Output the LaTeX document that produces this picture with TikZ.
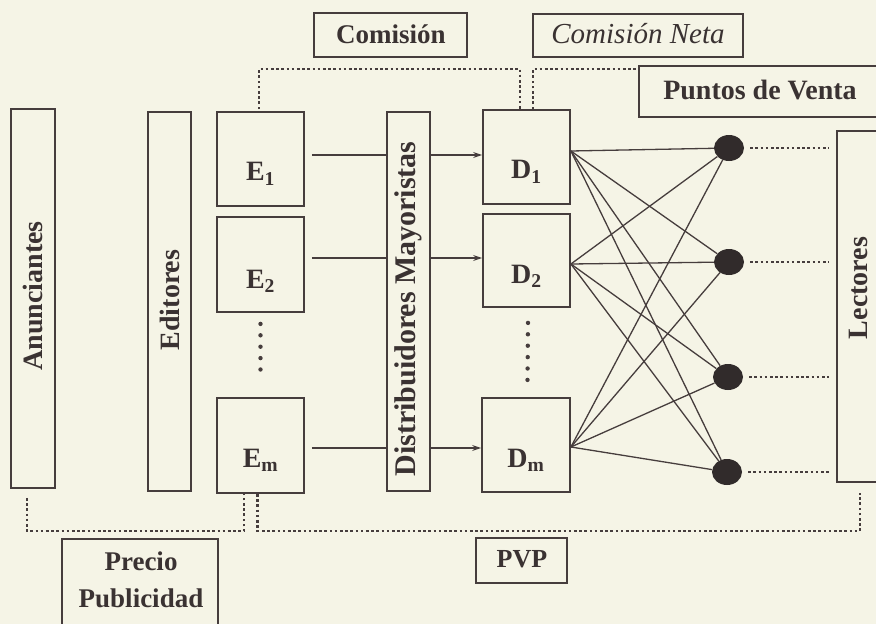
\documentclass[tikz,border=0pt]{standalone}
\usepackage{fontspec}
\setmainfont{Liberation Serif}
\usetikzlibrary{arrows.meta,shapes.geometric}
\definecolor{ink}{HTML}{463D3D}
\definecolor{type}{HTML}{3A3232}
\definecolor{paper}{HTML}{F5F4E6}
\begin{document}
\begin{tikzpicture}[x=1pt,y=-1pt,
  box/.style={draw=ink, line width=1.8pt, inner sep=0pt},
  tag/.style={text=type, inner sep=0pt, font=\bfseries\fontsize{28}{30}\selectfont},
  vtag/.style={tag, rotate=90},
  link/.style={draw=ink, line width=1.6pt},
  flow/.style={link, -{Stealth[length=9pt,width=6pt]}},
  fan/.style={draw=ink, line width=1.3pt},
  dotline/.style={draw=ink, line width=2.9pt, dash pattern=on 2.6pt off 2.6pt},
  ellip/.style={draw=ink, line width=4.4pt, line cap=round, dash pattern=on 0pt off 11.4pt},
  outlet/.style={ellipse, fill=ink!70!black, minimum width=30pt, minimum height=26pt, inner sep=0pt},
]
\fill[paper] (0,0) rectangle (876,624);
\useasboundingbox (0,0) rectangle (876,624);

% tall column boxes
\node[box, minimum width=44pt, minimum height=379pt] (anun) at (33,298.5) {};
\node[vtag] (anunT) at (33,296) {Anunciantes};
\node[box, minimum width=43pt, minimum height=379pt] (edit) at (169.5,301.5) {};
\node[vtag] (editT) at (169.5,300) {Editores};
\node[box, minimum width=43pt, minimum height=379pt] (dist) at (408.5,301.5) {};
\node[vtag, font=\bfseries\fontsize{30}{32}\selectfont] (distT) at (408.5,309) {Distribuidores Mayoristas};
\node[box, minimum width=63pt, minimum height=351pt] (lect) at (868.5,306.5) {};
\node[vtag] (lectT) at (858,288) {Lectores};

% publishers
\node[box, minimum width=87pt, minimum height=94pt] (E1) at (260.5,159) {};
\node[box, minimum width=87pt, minimum height=95pt] (E2) at (260.5,264.5) {};
\node[box, minimum width=87pt, minimum height=95pt] (Em) at (260.5,445.5) {};
\node[tag] (E1t) at ([yshift=-15pt]E1.center) {E\textsubscript{1}};
\node[tag] (E2t) at ([yshift=-17pt]E2.center) {E\textsubscript{2}};
\node[tag] (Emt) at ([yshift=-15pt]Em.center) {E\textsubscript{m}};
\draw[ellip] ([yshift=-11pt]E2.south) -- ([yshift=17pt]Em.north);

% distributors
\node[box, minimum width=87pt, minimum height=94pt] (D1) at (526.5,157) {};
\node[box, minimum width=87pt, minimum height=93pt] (D2) at (526.5,260.5) {};
\node[box, minimum width=88pt, minimum height=94pt] (Dm) at (526,445) {};
\node[tag] (D1t) at ([yshift=-15pt]D1.center) {D\textsubscript{1}};
\node[tag] (D2t) at ([yshift=-16pt]D2.center) {D\textsubscript{2}};
\node[tag] (Dmt) at ([yshift=-15pt]Dm.center) {D\textsubscript{m}};
\draw[ellip] ([yshift=-15pt,xshift=1.5pt]D2.south) -- ([yshift=17pt,xshift=1.5pt]Dm.north);

% flows publishers -> wholesalers -> distributors
\coordinate (r1) at (0,155);
\coordinate (r2) at (0,258);
\coordinate (r3) at (0,448);
\foreach \e/\d/\r in {E1/D1/r1, E2/D2/r2, Em/Dm/r3}{
  \draw[link, shorten <=7pt] (\e.east |- \r) -- (dist.west |- \r);
  \draw[flow] (dist.east |- \r) -- (\d.west |- \r);
}

% points of sale
\node[outlet] (P1) at (729,148) {};
\node[outlet] (P2) at (729,262) {};
\node[outlet] (P3) at (728,377) {};
\node[outlet] (P4) at (727,472) {};
\coordinate (s1) at ([yshift=6pt]D1.east);
\coordinate (s2) at ([yshift=-3.5pt]D2.east);
\coordinate (s3) at ([yshift=-2pt]Dm.east);
\foreach \s in {s1,s2,s3}{
  \foreach \p in {P1,P2,P3,P4}{
    \draw[fan] (\s) -- (\p);
  }
}
\foreach \p in {P1,P2,P3,P4}{
  \draw[dotline, shorten <=6pt, shorten >=7pt] (\p.east) -- (\p.east -| lect.west);
}

% money labels
\node[box, minimum width=153pt, minimum height=44pt] (com) at (390.5,35) {};
\node[tag, font=\bfseries\fontsize{27}{29}\selectfont] (comT) at (391,34) {Comisión};
\node[box, minimum width=210pt, minimum height=43pt] (neta) at (638,35.5) {};
\node[tag, font=\itshape\fontsize{29}{31}\selectfont] (netaT) at (638,34) {Comisión Neta};
\node[box, minimum width=261pt, minimum height=51pt] (pv) at (769.5,91.5) {};
\node[tag] (pvT) at (760,90) {Puntos de Venta};
\node[box, minimum width=156pt, minimum height=162pt] (precio) at (140,620) {};
\node[tag, align=center, font=\bfseries\fontsize{27}{37}\selectfont] (precioT) at (141,580) {Precio\\Publicidad};
\node[box, minimum width=91pt, minimum height=45pt] (pvp) at (521.5,560.5) {};
\node[tag, font=\bfseries\fontsize{26}{28}\selectfont] (pvpT) at (522,559) {PVP};

% dotted money paths
\coordinate (toprail) at (0,69);
\coordinate (botrail) at (0,531);
\coordinate (e1top) at ([xshift=-1.5pt,yshift=2pt]E1.north);
\coordinate (d1topL) at ([xshift=-6.5pt,yshift=0pt]D1.north);
\coordinate (d1topR) at ([xshift=6.5pt,yshift=0pt]D1.north);
\draw[dotline] (e1top) |- (d1topL |- toprail) -- (d1topL);
\draw[dotline] (d1topR) |- (pv.west |- toprail);

\coordinate (anunB) at ([xshift=-6pt,yshift=-9pt]anun.south);
\coordinate (emL) at ([xshift=-16.5pt]Em.south);
\coordinate (emR) at ([xshift=-3pt]Em.south);
\coordinate (lectB) at ([xshift=-8.5pt,yshift=-10pt]lect.south);
\draw[dotline] (anunB) |- (emL |- botrail) -- (emL);
\draw[dotline] (emR) |- (lectB |- botrail) -- (lectB);
\end{tikzpicture}
\end{document}
